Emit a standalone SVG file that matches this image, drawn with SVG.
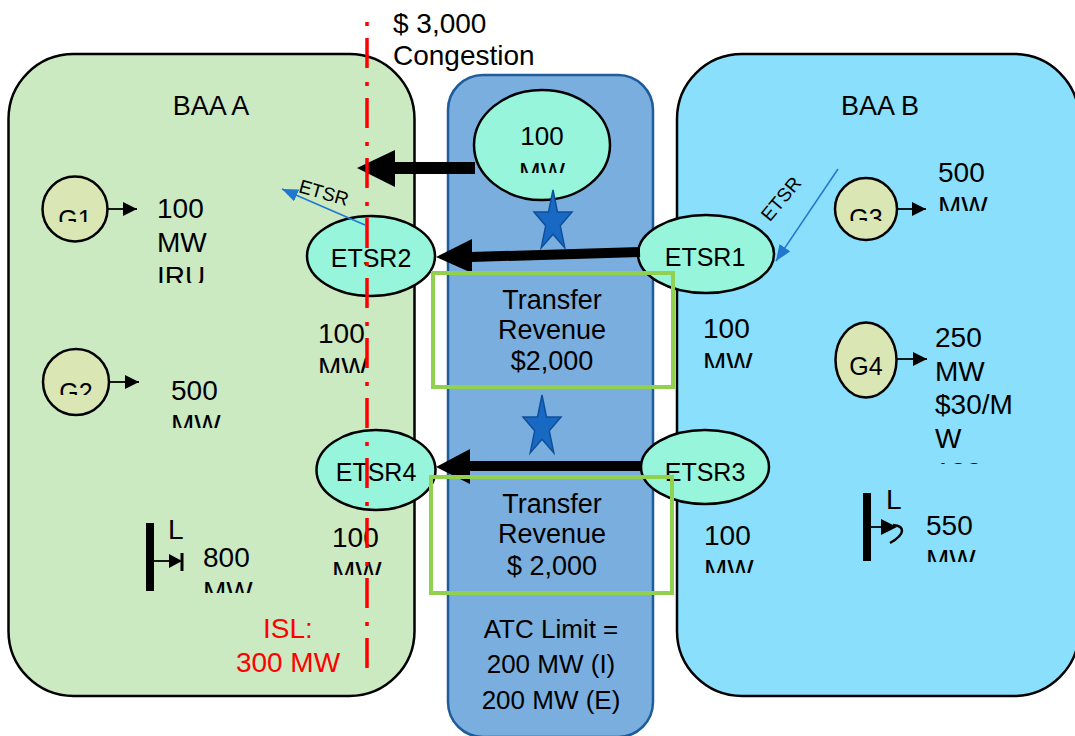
<svg xmlns="http://www.w3.org/2000/svg" width="1075" height="736" viewBox="0 0 1075 736">
<style>
text{font-family:"Liberation Sans",Arial,sans-serif;fill:#000}
.baa{stroke:#000;stroke-width:2.5}
.et{fill:#96f5da;stroke:#000;stroke-width:2.5}
.g{fill:#dae6b4;stroke:#000;stroke-width:2.5}
.t28{font-size:28px}
.t27{font-size:27px}
.t26{font-size:26px}
.t25{font-size:25px}
.t24{font-size:24px}
.mid{text-anchor:middle}
.gr{fill:none;stroke:#92d050;stroke-width:4}
.thin{stroke:#000;stroke-width:1.8;fill:none}
.blue{stroke:#1f77d0;stroke-width:1.5;fill:none}
.star{fill:#1769c4;stroke:#0f4f99;stroke-width:1.5}
</style>
<defs>
<marker id="ah" markerUnits="userSpaceOnUse" markerWidth="16" markerHeight="16" refX="14" refY="7" orient="auto"><path d="M0,0 L14,7 L0,14 Z" fill="#000"/></marker>
<marker id="bh" markerUnits="userSpaceOnUse" markerWidth="18" markerHeight="14" refX="16" refY="6.5" orient="auto"><path d="M0,0 L16,6.5 L0,13 Z" fill="#1f77d0"/></marker>
<path id="st" d="M0,-32 L4.5,-9.9 L19,-9.9 L7.3,3.8 L11.8,25.9 L0,12.2 L-11.8,25.9 L-7.3,3.8 L-19,-9.9 L-4.5,-9.9 Z"/>
<clipPath id="cG1"><rect x="30" y="170" width="90" height="52"/></clipPath>
<clipPath id="cG2"><rect x="30" y="340" width="90" height="55"/></clipPath>
<clipPath id="cG3"><rect x="820" y="170" width="90" height="51"/></clipPath>
<clipPath id="c1"><rect x="150" y="180" width="90" height="103"/></clipPath>
<clipPath id="c2"><rect x="165" y="360" width="90" height="68"/></clipPath>
<clipPath id="c3"><rect x="310" y="300" width="90" height="73"/></clipPath>
<clipPath id="c4"><rect x="325" y="505" width="90" height="70"/></clipPath>
<clipPath id="c5"><rect x="195" y="525" width="90" height="68"/></clipPath>
<clipPath id="c6"><rect x="490" y="110" width="110" height="63"/></clipPath>
<clipPath id="c7"><rect x="695" y="300" width="90" height="68"/></clipPath>
<clipPath id="c8"><rect x="695" y="505" width="90" height="68"/></clipPath>
<clipPath id="c9"><rect x="930" y="150" width="100" height="61"/></clipPath>
<clipPath id="c10"><rect x="928" y="310" width="110" height="154"/></clipPath>
<clipPath id="c11"><rect x="918" y="500" width="100" height="62"/></clipPath>
</defs>

<g id="baa-a">
<rect class="baa" x="8.5" y="54" width="406" height="642" rx="65" fill="#cceac2"/>
<text class="t27 mid" x="211" y="115">BAA A</text>
</g>
<g id="baa-b">
<rect class="baa" x="677" y="54" width="402" height="642" rx="65" fill="#8adffd"/>
<text class="t27 mid" x="880" y="115">BAA B</text>
</g>
<g id="interface">
<rect x="448" y="75" width="205" height="662" rx="35" fill="#7aaede" stroke="#1f5c9c" stroke-width="2.5"/>
<text class="t26 mid" x="551" y="638">ATC Limit =</text>
<text class="t26 mid" x="551" y="673">200 MW (I)</text>
<text class="t26 mid" x="551" y="709">200 MW (E)</text>
</g>

<g id="g1">
<circle class="g" cx="75" cy="209" r="32.5"/>
<text class="t25 mid" x="75" y="228" clip-path="url(#cG1)">G1</text>
<g clip-path="url(#c1)"><text class="t28" x="157" y="218">100</text><text class="t28" x="157" y="252">MW</text><text class="t28" x="157" y="286">IRU</text></g>
</g>
<g id="g2">
<circle class="g" cx="76" cy="382" r="33"/>
<text class="t25 mid" x="76" y="401" clip-path="url(#cG2)">G2</text>
<g clip-path="url(#c2)"><text class="t28" x="171" y="400">500</text><text class="t28" x="171" y="434">MW</text></g>
</g>
<g id="g3">
<circle class="g" cx="866" cy="209" r="31"/>
<text class="t25 mid" x="866" y="227" clip-path="url(#cG3)">G3</text>
<g clip-path="url(#c9)"><text class="t28" x="938" y="182">500</text><text class="t28" x="938" y="216">MW</text></g>
</g>
<g id="g4">
<ellipse class="g" cx="866" cy="360" rx="30.5" ry="37.5"/>
<text class="t25 mid" x="866" y="375">G4</text>
<g clip-path="url(#c10)"><text class="t28" x="935" y="347">250</text><text class="t28" x="935" y="381">MW</text><text class="t28" x="935" y="414">$30/M</text><text class="t28" x="935" y="448">W</text><text class="t28" x="935" y="482">100</text></g>
</g>

<g id="load-a">
<rect x="146" y="523" width="8" height="68" fill="#000"/>
<text class="t28" x="168" y="539">L</text>
<line x1="154" y1="561" x2="170" y2="561" stroke="#000" stroke-width="1.8"/>
<path d="M169,554 L182,561 L169,568 Z" fill="#000"/>
<line x1="182" y1="553" x2="182" y2="571" stroke="#000" stroke-width="3"/>
<g clip-path="url(#c5)"><text class="t28" x="203" y="567">800</text><text class="t28" x="203" y="601">MW</text></g>
</g>
<g id="load-b">
<rect x="863" y="493" width="8" height="68" fill="#000"/>
<text class="t28" x="886" y="509">L</text>
<line x1="871" y1="527" x2="882" y2="527" stroke="#000" stroke-width="1.8"/>
<path d="M881,519 L897,527 L881,535 Z" fill="#000"/>
<path d="M893,525 C905,526 906,534 890,543" fill="none" stroke="#000" stroke-width="2.5"/>
<g clip-path="url(#c11)"><text class="t28" x="926" y="535">550</text><text class="t28" x="926" y="569">MW</text></g>
</g>

<g id="flow-labels">
<g clip-path="url(#c3)"><text class="t28" x="318" y="343">100</text><text class="t28" x="318" y="377">MW</text></g>
<g clip-path="url(#c4)"><text class="t28" x="332" y="547">100</text><text class="t28" x="332" y="581">MW</text></g>
<g clip-path="url(#c7)"><text class="t28" x="703" y="338">100</text><text class="t28" x="703" y="372">MW</text></g>
<g clip-path="url(#c8)"><text class="t28" x="704" y="545">100</text><text class="t28" x="704" y="579">MW</text></g>
</g>

<g id="flow-100">
<ellipse class="et" cx="542" cy="145" rx="68" ry="55"/>
<g clip-path="url(#c6)"><text class="t26 mid" x="542" y="145">100</text><text class="t26 mid" x="542" y="181">MW</text></g>
</g>

<g id="etsr2"><ellipse class="et" cx="371" cy="256" rx="64" ry="40"/><text class="t25 mid" x="371" y="267">ETSR2</text></g>
<g id="etsr1"><ellipse class="et" cx="706" cy="254" rx="68" ry="39"/><text class="t25 mid" x="705" y="266">ETSR1</text></g>
<g id="etsr4"><ellipse class="et" cx="376" cy="470" rx="59.5" ry="40"/><text class="t25 mid" x="376" y="481">ETSR4</text></g>
<g id="etsr3"><ellipse class="et" cx="705" cy="467" rx="64" ry="37"/><text class="t25 mid" x="705" y="481">ETSR3</text></g>

<g id="connectors">
<line x1="475" y1="168" x2="394" y2="168" stroke="#000" stroke-width="12"/>
<path d="M357,168 L395,150 L395,187 Z" fill="#000"/>
<line x1="640" y1="252" x2="471" y2="257" stroke="#000" stroke-width="10"/>
<path d="M436,257 L472,239 L472,273 Z" fill="#000"/>
<line x1="641" y1="466" x2="469" y2="466" stroke="#000" stroke-width="10"/>
<path d="M436,467 L470,449 L470,484 Z" fill="#000"/>
<line class="thin" x1="107" y1="209" x2="137" y2="209" marker-end="url(#ah)"/>
<line class="thin" x1="109" y1="382" x2="139" y2="382" marker-end="url(#ah)"/>
<line class="thin" x1="897" y1="209" x2="926" y2="209" marker-end="url(#ah)"/>
<line class="thin" x1="897" y1="359" x2="927" y2="359" marker-end="url(#ah)"/>
<line class="blue" x1="365" y1="225" x2="282" y2="189" marker-end="url(#bh)"/>
<line class="blue" x1="838" y1="169" x2="776" y2="261" marker-end="url(#bh)"/>
<text font-size="19" text-anchor="middle" transform="translate(322,199) rotate(16)">ETSR</text>
<text font-size="19" text-anchor="middle" transform="translate(786,203) rotate(-50)">ETSR</text>
</g>

<g id="stars">
<use href="#st" class="star" transform="translate(553,222)"/>
<use href="#st" class="star" transform="translate(542,427)"/>
</g>

<g id="transfer-1">
<rect class="gr" x="433" y="273" width="240" height="114"/>
<text class="t27 mid" x="552" y="309">Transfer</text>
<text class="t27 mid" x="552" y="339">Revenue</text>
<text class="t27 mid" x="552" y="370">$2,000</text>
</g>
<g id="transfer-2">
<rect class="gr" x="431" y="477" width="241" height="116"/>
<text class="t27 mid" x="552" y="513">Transfer</text>
<text class="t27 mid" x="552" y="543">Revenue</text>
<text class="t27 mid" x="552" y="575">$ 2,000</text>
</g>

<g id="congestion">
<text class="t28" x="393" y="33">$ 3,000</text>
<text class="t28" x="393" y="65">Congestion</text>
<line x1="367" y1="22" x2="367" y2="669" stroke="#ff0000" stroke-width="3.5" stroke-dasharray="4 12 30 14"/>
<text class="t28 mid" x="288" y="638" style="fill:#ff0000">ISL:</text>
<text class="t28 mid" x="288" y="672" style="fill:#ff0000">300 MW</text>
</g>
</svg>
